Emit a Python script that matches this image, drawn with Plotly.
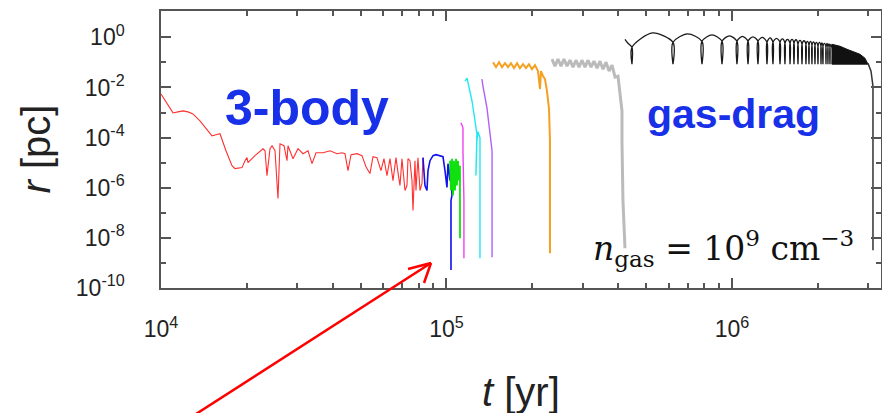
import plotly.graph_objects as go

# ---------------- data (t in yr, r in pc) ----------------
red_t = [10000, 10580, 11020, 11470, 11940, 12430, 12940, 13690, 14380, 15090, 15580, 16090,
         16890, 17730, 18160, 19220, 19690, 20010, 20170, 21340, 22770, 23140, 23510, 24090,
         24480, 25080, 25690, 26110, 26970, 27630, 27850, 29000, 30190, 31440, 32730, 33810,
         34910, 36940, 39080, 41360, 43050, 44100, 45190, 46300, 48600, 50580, 52240, 53950,
         55280, 57080, 58950, 60390, 61870, 63400, 64950, 66540, 67640, 68720, 69840, 71550,
         72710, 73300, 74490, 75710, 76320, 77560, 78190, 79450, 80750, 82060, 82730]
red_r = [5.47e-3, 2.0e-3, 9.64e-4, 1.06e-3, 1.16e-3, 1.06e-3, 8.8e-4, 4.64e-4, 2.23e-4, 1.18e-4, 1.29e-4, 1.42e-4,
         2.99e-5, 7.6e-6, 5.78e-6, 6.34e-6, 1.2e-5, 1.58e-5, 1.0e-5, 1.9e-5, 3.6e-5, 2.99e-5, 3.05e-6, 3.6e-5,
         4.73e-5, 2.99e-5, 3.73e-7, 5.67e-5, 4.73e-5, 1.2e-5, 4.73e-5, 1.44e-5, 3.6e-5, 2.28e-5, 2.99e-5, 9.12e-6,
         2.49e-5, 2.49e-5, 2.99e-5, 2.28e-5, 2.49e-5, 2.28e-5, 4.82e-6, 2.08e-5, 2.28e-5, 1.9e-5, 6.93e-6, 3.66e-6,
         1.73e-5, 1.58e-5, 4.82e-6, 1.44e-5, 3.05e-6, 1.44e-5, 1.93e-6, 1.58e-5, 4.01e-6, 1.22e-6, 1.44e-5, 7.74e-7,
         1.22e-6, 1.44e-5, 1.2e-5, 1.93e-6, 1.24e-7, 1.2e-5, 7.74e-7, 1.58e-5, 7.74e-7, 1.47e-6, 1.58e-5]

blue_t = [82730, 84070, 85440, 86140, 87540, 89690, 91890, 94890, 97210, 98790, 100400, 101200,
          102900, 103700, 104500, 103700, 103700, 103700]
blue_r = [1.58e-5, 1.22e-6, 7.74e-7, 4.82e-6, 1.2e-5, 1.9e-5, 2.08e-5, 1.9e-5, 1.73e-5, 4.82e-6, 1.02e-6, 9.12e-6,
          1.93e-6, 1.2e-5, 4.9e-7, 3.1e-7, 2.0e-8, 5.18e-10]

green_t = [102900, 103700, 104500, 105400, 106200, 107100, 108000, 108800, 109700, 110600, 111500, 111500, 111500]
green_r = [1.2e-5, 7.74e-7, 1.44e-5, 4.9e-7, 1.2e-5, 7.74e-7, 1.44e-5, 1.22e-6, 1.2e-5, 1.93e-6, 7.6e-6, 3.1e-7, 9.64e-9]

magenta_t = [112400, 114200, 114200, 115100, 115100]
magenta_r = [3.87e-4, 2.45e-4, 2.99e-5, 3.1e-7, 1.55e-9]

cyan_t = [116100, 118000, 122900, 125800, 127800, 126800, 127800, 128900, 131000, 131000]
cyan_r = [1.79e-2, 2.36e-2, 2.88e-3, 4.64e-4, 1.42e-4, 3.05e-6, 7.46e-5, 1.7e-4, 9.82e-5, 1.55e-9]

purple_t = [133100, 134200, 138600, 140900, 143200, 144400, 144400]
purple_r = [2.15e-2, 1.14e-2, 1.52e-3, 2.45e-4, 7.46e-5, 2.99e-5, 1.7e-9]

orange_t = [145600, 149100, 152800, 156500, 160300, 164300, 168200, 172400, 176600, 180900, 185400, 189900,
            194500, 199300, 204200, 209200, 212600, 214300, 217800, 221300, 224900, 228600, 230400, 230400, 230400]
orange_r = [0.102, 0.0645, 0.102, 0.0645, 0.0929, 0.0645, 0.0929, 0.0589, 0.0929, 0.0589, 0.0849, 0.0589,
            0.0849, 0.0537, 0.0774, 0.0448, 0.00865, 0.0448, 0.0283, 0.0215, 0.0072, 0.00139, 7.46e-5, 3.1e-7, 2.45e-9]

gray_t = [234200, 239900, 245800, 251800, 258000, 264300, 270800, 277500, 284200, 291200, 298400, 305700,
          313200, 320800, 328700, 336800, 345000, 353400, 362200, 371000, 380000, 389400, 398800, 405300,
          411800, 411800, 415100, 421900]
gray_r = [0.134, 0.0707, 0.134, 0.0707, 0.134, 0.0707, 0.122, 0.0645, 0.122, 0.0645, 0.122, 0.0645,
          0.122, 0.0645, 0.112, 0.0589, 0.112, 0.0537, 0.102, 0.0448, 0.0774, 0.0259, 0.0283, 0.0072,
          0.00116, 7.46e-5, 3.1e-7, 3.86e-9]

# black (gas-drag) orbit: pericentre passages (cusps) and apocentres
black_start_t = [421900, 432200]
black_start_r = [0.833, 0.578]
black_cusp_t = [446400, 621400, 785200, 922600, 1041000, 1138000, 1233000, 1326000, 1392000, 1473000,
                1533000, 1597000, 1649000, 1703000, 1759000, 1816000, 1861000, 1906000, 1953000, 2001000,
                2050000, 2083000, 2134000, 2169000, 2204000, 2240000]
black_junction_r = [0.40, 0.634, 0.694, 0.694, 0.694, 0.694, 0.694, 0.634, 0.634, 0.634,
                    0.578, 0.578, 0.578, 0.527, 0.527, 0.527, 0.481, 0.481, 0.481, 0.44,
                    0.44, 0.44, 0.401, 0.401, 0.401, 0.365]
black_peri_r = 0.0849
black_apo_t = [526700, 698500, 851000, 980000, 1088000, 1185000, 1279000, 1359000, 1432000, 1503000,
               1565000, 1623000, 1676000, 1731000, 1788000, 1838000, 1884000, 1930000, 1977000, 2026000,
               2066000, 2109000, 2152000, 2187000, 2222000]
black_apo_r = [1.5, 1.37, 1.25, 1.15, 1.096, 1.05, 1.0, 0.95, 0.913, 0.87,
               0.833, 0.833, 0.8, 0.76, 0.73, 0.694, 0.694, 0.66, 0.634, 0.634,
               0.6, 0.578, 0.578, 0.55, 0.527]
# unresolved dense part of the orbit (upper envelope, then pericentre level)
black_dense_t = [2240000, 2390000, 2528000, 2696000, 2807000, 2923000, 2995000, 2995000, 2240000]
black_dense_r = [0.527, 0.44, 0.334, 0.254, 0.211, 0.147, 0.0929, 0.0849, 0.0849]
black_tail_t = [2995000, 3069000, 3118000, 3118000]
black_tail_r = [0.0929, 0.0448, 0.0114, 3.22e-9]

x_major = [1e4, 1e5, 1e6]
x_major_text = ["10<sup>4</sup>", "10<sup>5</sup>", "10<sup>6</sup>"]
x_minor = [2e4, 3e4, 4e4, 5e4, 6e4, 7e4, 8e4, 9e4, 2e5, 3e5, 4e5, 5e5, 6e5, 7e5, 8e5, 9e5, 2e6, 3e6]
y_major = [1e-10, 1e-8, 1e-6, 1e-4, 1e-2, 1e0]
y_major_text = ["10<sup>-10</sup>", "10<sup>-8</sup>", "10<sup>-6</sup>", "10<sup>-4</sup>", "10<sup>-2</sup>", "10<sup>0</sup>"]
y_minor = [1e-9, 1e-7, 1e-5, 1e-3, 1e-1]

# build black orbit path from the read cusp / apocentre values
black_t = list(black_start_t)
black_r = list(black_start_r)
for i, tc in enumerate(black_cusp_t):
    black_t += [tc, tc]
    black_r += [black_junction_r[i], black_peri_r]
    if i < len(black_apo_t):
        black_t += [tc, black_apo_t[i]]
        black_r += [black_junction_r[i], black_apo_r[i]]

fig = go.Figure()

def add_line(t, r, color, width=1.2, shape="linear"):
    fig.add_trace(go.Scatter(x=t, y=r, mode="lines", line=dict(color=color, width=width, shape=shape),
                             showlegend=False, hoverinfo="skip"))

add_line(red_t, red_r, "#ff3030", 1.1)
add_line(blue_t, blue_r, "#1010f0", 1.6)
add_line(green_t, green_r, "#10e010", 1.8)
add_line(magenta_t, magenta_r, "#f040f0", 1.4)
add_line(cyan_t, cyan_r, "#20e8f0", 1.4)
add_line(purple_t, purple_r, "#b060f8", 1.4)
add_line(orange_t, orange_r, "#f5a020", 2.0)
add_line(gray_t, gray_r, "#bbbbbb", 3.0)
fig.add_trace(go.Scatter(x=black_t, y=black_r, mode="lines",
                         line=dict(color="#1a1a1a", width=1.3, shape="spline", smoothing=0.8),
                         showlegend=False, hoverinfo="skip"))
fig.add_trace(go.Scatter(x=black_dense_t, y=black_dense_r, mode="lines", fill="toself",
                         fillcolor="#111111", line=dict(color="#111111", width=1),
                         showlegend=False, hoverinfo="skip"))
add_line(black_tail_t, black_tail_r, "#333333", 1.5)

axis_common = dict(
    type="log", showgrid=False, zeroline=False, showline=True, linecolor="#555555", linewidth=1.5,
    mirror="allticks", ticks="inside", ticklen=10, tickwidth=1.5, tickcolor="#555555",
    tickfont=dict(family="Liberation Sans, Arial, sans-serif", size=23, color="#222222"),
    tickmode="array", automargin=False,
)
fig.update_xaxes(**axis_common, range=[4, 6.522], tickvals=x_major, ticktext=x_major_text,
                 ticklabelstandoff=20,
                 minor=dict(tickmode="array", tickvals=x_minor, ticks="inside", ticklen=5,
                            tickwidth=1.5, tickcolor="#555555", showgrid=False))
fig.update_yaxes(**axis_common, range=[-10, 1.05], tickvals=y_major, ticktext=y_major_text,
                 ticklabelstandoff=30,
                 minor=dict(tickmode="array", tickvals=y_minor, ticks="inside", ticklen=5,
                            tickwidth=1.5, tickcolor="#555555", showgrid=False))

fig.update_layout(
    width=882, height=413,
    margin=dict(l=161, r=1, t=11, b=125, autoexpand=False),
    paper_bgcolor="white", plot_bgcolor="white",
    annotations=[
        dict(text="<b>3-body</b>", x=0.2028, y=0.65, xref="paper", yref="paper", showarrow=False,
             xanchor="center", yanchor="middle",
             font=dict(family="Liberation Sans, Arial, sans-serif", size=50, color="#1830e8")),
        dict(text="<b>gas-drag</b>", x=0.7958, y=0.628, xref="paper", yref="paper", showarrow=False,
             xanchor="center", yanchor="middle",
             font=dict(family="Liberation Sans, Arial, sans-serif", size=41, color="#1830e8")),
        dict(text="<i>n</i><sub>gas</sub> = 10<sup>9</sup> cm<sup>−3</sup>", x=0.7806, y=0.144,
             xref="paper", yref="paper", showarrow=False, xanchor="center", yanchor="middle",
             font=dict(family="DejaVu Serif, Liberation Serif, serif", size=33, color="#111111")),
        dict(text="<i>t</i> [yr]", x=0.5, y=-0.375, xref="paper", yref="paper", showarrow=False,
             xanchor="center", yanchor="middle",
             font=dict(family="Liberation Sans, Arial, sans-serif", size=40, color="#222222")),
        dict(text="<i>r</i> [pc]", x=-0.175, y=0.5, xref="paper", yref="paper", showarrow=False,
             xanchor="center", yanchor="middle", textangle=-90,
             font=dict(family="Liberation Sans, Arial, sans-serif", size=40, color="#222222")),
    ],
    shapes=[
        dict(type="line", xref="paper", yref="paper", x0=0.0444, y0=-0.462, x1=0.375, y1=0.0903,
             line=dict(color="red", width=2.5)),
        dict(type="line", xref="paper", yref="paper", x0=0.375, y0=0.0903, x1=0.3431, y1=0.0686,
             line=dict(color="red", width=2.5)),
        dict(type="line", xref="paper", yref="paper", x0=0.375, y0=0.0903, x1=0.3653, y1=0.0181,
             line=dict(color="red", width=2.5)),
    ],
)

fig.write_html("out.html", config={"displayModeBar": False},
               post_script="document.body.style.margin='0px';")
